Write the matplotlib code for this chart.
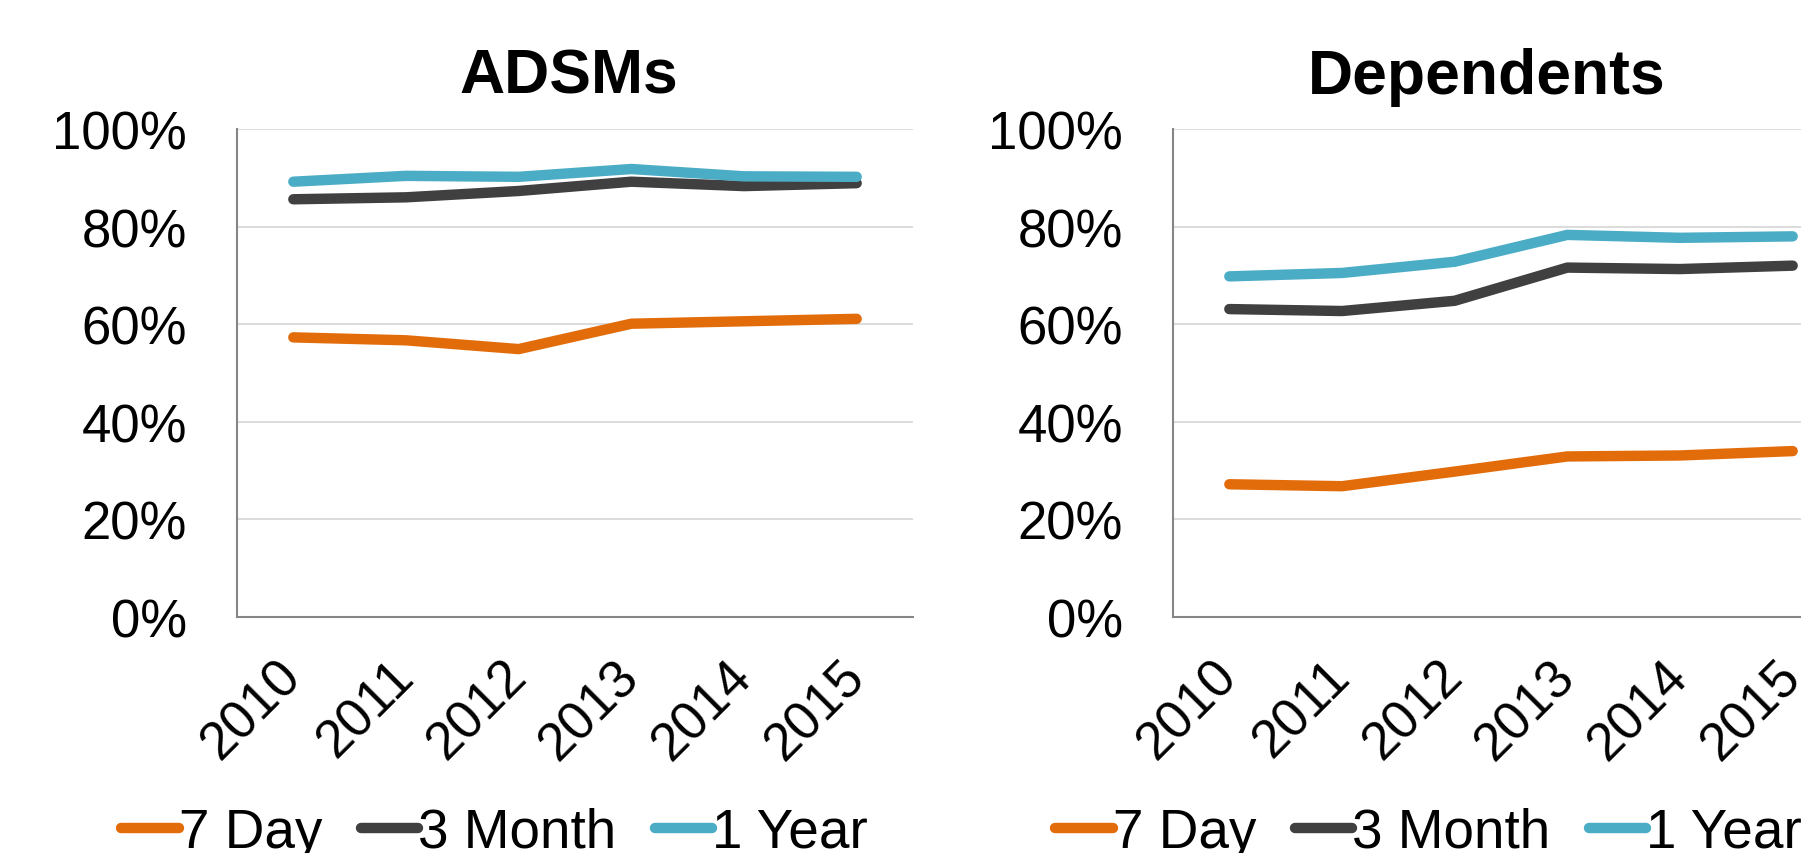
import matplotlib
matplotlib.use('Agg')
import matplotlib.pyplot as plt
from matplotlib.ticker import PercentFormatter

years = ['2010', '2011', '2012', '2013', '2014', '2015']
series_names = ['7 Day', '3 Month', '1 Year']

adsm_7day = [57.3, 56.7, 54.9, 60.1, 60.6, 61.1]
adsm_3month = [85.6, 86.0, 87.3, 89.2, 88.3, 88.9]
adsm_1year = [89.2, 90.4, 90.2, 91.8, 90.3, 90.2]

dep_7day = [27.2, 26.8, 29.8, 32.9, 33.1, 34.0]
dep_3month = [63.1, 62.7, 64.8, 71.6, 71.3, 72.0]
dep_1year = [69.8, 70.5, 72.8, 78.3, 77.7, 78.0]

colors = ['#E36C0A', '#404040', '#4BACC6']

plt.rcParams['font.family'] = ['Liberation Sans', 'DejaVu Sans']

W, H = 1801, 854
fig = plt.figure(figsize=(W / 100, H / 100), dpi=100)


def px_axes(left, top, right, bottom):
    return fig.add_axes([left / W, 1 - bottom / H, (right - left) / W, (bottom - top) / H])


def panel(ax, title, title_x, values):
    for vals, name, color in zip(values, series_names, colors):
        ax.plot(range(len(years)), vals, color=color, lw=7.5, label=name,
                solid_capstyle='round', solid_joinstyle='round')
    ax.set_ylim(0, 100)
    ax.set_xlim(-0.5, len(years) - 0.5)
    ax.set_yticks(range(0, 101, 20))
    ax.yaxis.set_major_formatter(PercentFormatter(decimals=0))
    ax.set_xticks(range(len(years)))
    ax.set_xticklabels(years, rotation=45, ha='right', va='center',
                       rotation_mode='anchor')
    ax.tick_params(axis='both', length=0, labelsize=38)
    ax.tick_params(axis='y', pad=36)
    ax.tick_params(axis='x', pad=37)
    ax.grid(axis='y', color='#d9d9d9', lw=1.3)
    ax.set_axisbelow(True)
    for s in ['top', 'right']:
        ax.spines[s].set_visible(False)
    for s in ['left', 'bottom']:
        ax.spines[s].set_color('#868686')
        ax.spines[s].set_linewidth(1.5)
    ax.set_title(title, x=title_x, fontsize=45, fontweight='bold', pad=26)


ax1 = px_axes(237, 130, 913, 618)
panel(ax1, 'ADSMs', 0.491, [adsm_7day, adsm_3month, adsm_1year])

ax2 = px_axes(1173, 130, 1849, 618)
panel(ax2, 'Dependents', 0.4645, [dep_7day, dep_3month, dep_1year])

for ax, x0 in [(ax1, 121), (ax2, 1055)]:
    h, l = ax.get_legend_handles_labels()
    fig.legend(h, l, loc='center left', bbox_to_anchor=(x0 / W, 1 - 834 / H),
               ncol=3, frameon=False, fontsize=39.5, handlelength=1.05,
               handletextpad=0.0, columnspacing=0.7, borderaxespad=0,
               borderpad=0)

fig.savefig('out.png', dpi=100)
